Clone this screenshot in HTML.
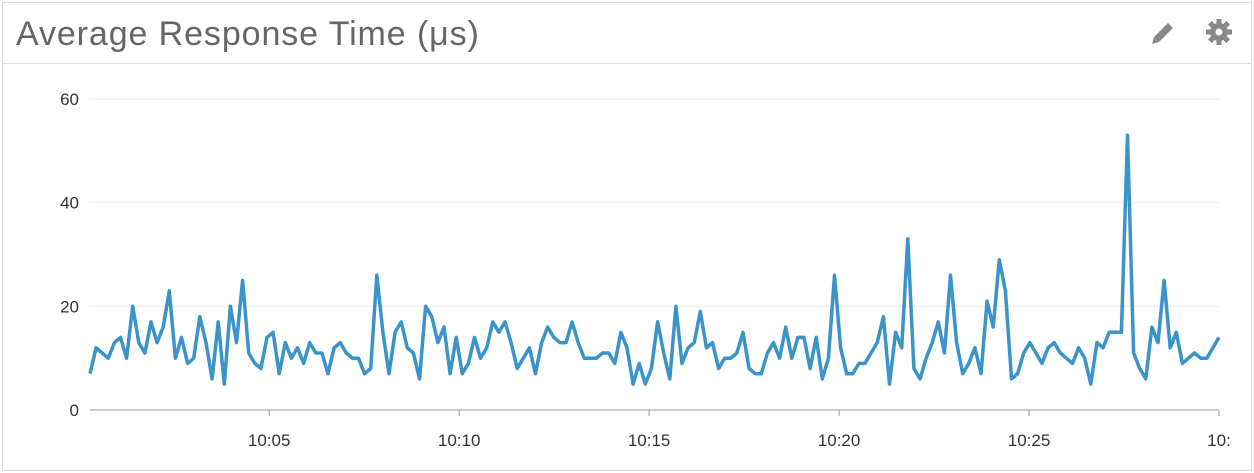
<!DOCTYPE html>
<html><head><meta charset="utf-8"><style>
body{margin:0;background:#fff;font-family:"Liberation Sans",sans-serif;}
#card{position:absolute;left:2px;top:2px;width:1248px;height:467px;border:1px solid #ddd;background:#fff;}
#title{position:absolute;left:13px;top:12px;font-size:34px;letter-spacing:0.9px;color:#666;}
#hdr-line{position:absolute;left:0;top:60px;width:1248px;height:1px;background:#ddd;}
svg{position:absolute;left:0;top:0;}
</style></head><body>
<div id="card">
<div id="title">Average Response Time (μs)</div>
<div id="hdr-line"></div>
</div>
<svg id="chart" width="1254" height="473">
<g transform="translate(1162,34) rotate(45)">
<rect x="-3.5" y="-12" width="7" height="20" fill="#888"/><polygon points="-3.5,8 3.5,8 0,14" fill="#888"/>
</g>
<g transform="translate(1219,32)">
<circle r="9" fill="#888"/><circle r="3.5" fill="#fff"/>
<g fill="#888"><rect x="-2.5" y="-13" width="5" height="26"/><rect x="-13" y="-2.5" width="26" height="5"/>
<rect x="-2.5" y="-13" width="5" height="26" transform="rotate(45)"/><rect x="-2.5" y="-13" width="5" height="26" transform="rotate(-45)"/></g>
<circle r="3.5" fill="#fff"/>
</g>
</svg>
<script>
const yTicks=[0,20,40,60];
const xTickLabels=["10:05","10:10","10:15","10:20","10:25","10:"];
const xTickSeconds=[300,600,900,1200,1500,1800];
const values=[7,12,11,10,13,14,10,20,13,11,17,13,16,23,10,14,9,10,18,13,6,17,5,20,13,25,11,9,8,14,15,7,13,10,12,9,13,11,11,7,12,13,11,10,10,7,8,26,15,7,15,17,12,11,6,20,18,13,16,7,14,7,9,14,10,12,17,15,17,13,8,10,12,7,13,16,14,13,13,17,13,10,10,10,11,11,9,15,12,5,9,5,8,17,11,6,20,9,12,13,19,12,13,8,10,10,11,15,8,7,7,11,13,10,16,10,14,14,8,14,6,10,26,12,7,7,9,9,11,13,18,5,15,12,33,8,6,10,13,17,11,26,13,7,9,12,7,21,16,29,23,6,7,11,13,11,9,12,13,11,10,9,12,10,5,13,12,15,15,15,53,11,8,6,16,13,25,12,15,9,10,11,10,10,12,14];
const tStart=17, tEnd=1800;
const X0=90,X1=1219,Y0=410,Y60=99;
const tx=s=>X0+(s-tStart)/(tEnd-tStart)*(X1-X0);
const ty=v=>Y0+(Y60-Y0)*v/60;
const svg=document.getElementById('chart');
const NS='http://www.w3.org/2000/svg';
function mk(tag,attrs){const e=document.createElementNS(NS,tag);for(const k in attrs)e.setAttribute(k,attrs[k]);svg.appendChild(e);return e;}
yTicks.forEach(v=>{
  const l=mk('line',{x1:X0,x2:X1,y1:ty(v),y2:ty(v),stroke:v===0?'#999':'#eee','stroke-width':1});
  
  
  const t=mk('text',{x:79,y:ty(v)+6,'text-anchor':'end','font-size':17,fill:'#333','font-family':'Liberation Sans, sans-serif'});
  t.textContent=v;
  
  
});
xTickSeconds.forEach((s,i)=>{
  const x=tx(s);
  const l=mk('line',{x1:x,x2:x,y1:Y0,y2:Y0+6,stroke:'#999'});
  
  
  const t=mk('text',{x:x,y:446,'text-anchor':'middle','font-size':17,fill:'#333','font-family':'Liberation Sans, sans-serif'});
  t.textContent=xTickLabels[i];
  
  
});
const n=values.length;
const pts=values.map((v,i)=>tx(tStart+(tEnd-tStart)*i/(n-1)).toFixed(1)+','+ty(v).toFixed(1)).join(' ');
const line=mk('polyline',{points:pts,fill:'none',stroke:'#3a93c9','stroke-width':3.5,'stroke-linejoin':'round'});


</script>
</body></html>
